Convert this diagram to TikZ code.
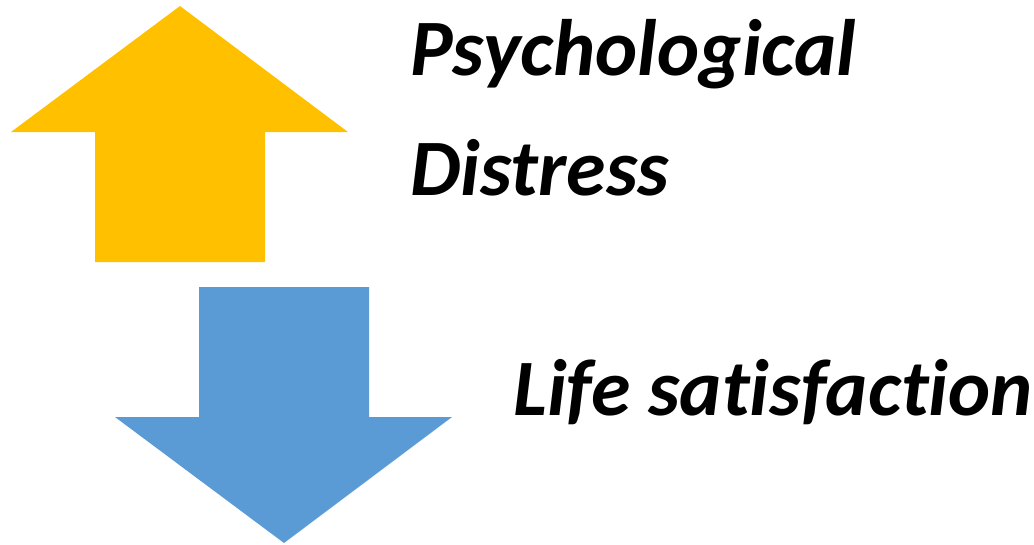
\documentclass[tikz,border=0pt]{standalone}
\usepackage{fontspec}
\setmainfont{Carlito}[Ligatures={NoCommon,NoDiscretionary,NoContextual}]
\usetikzlibrary{positioning}
\definecolor{upyellow}{HTML}{FFC000}
\definecolor{downblue}{HTML}{5B9BD5}

\begin{document}
\begin{tikzpicture}[
  x=1pt,y=-1pt,
  mylabel/.style={anchor=base west,inner sep=0pt,font=\fontsize{80}{120}\selectfont\bfseries\itshape},
  myarrow/.style={draw=none}
]
\useasboundingbox (0,0) rectangle (1034,544);
% up arrow
\fill[upyellow,myarrow] (180,6) -- (348,132) -- (265,132) -- (265,262)
  -- (95,262) -- (95,132) -- (11,132) -- cycle;
% down arrow
\fill[downblue,myarrow] (199,287) -- (369,287) -- (369,417) -- (452,417)
  -- (284,543) -- (115,417) -- (199,417) -- cycle;
\node[mylabel] (psy) at (410,75) {Psychological};
\node[mylabel] (dis) at (410,195) {Distress};
\node[mylabel] (life) at (513,415) {Life satisfaction};
\end{tikzpicture}
\end{document}
